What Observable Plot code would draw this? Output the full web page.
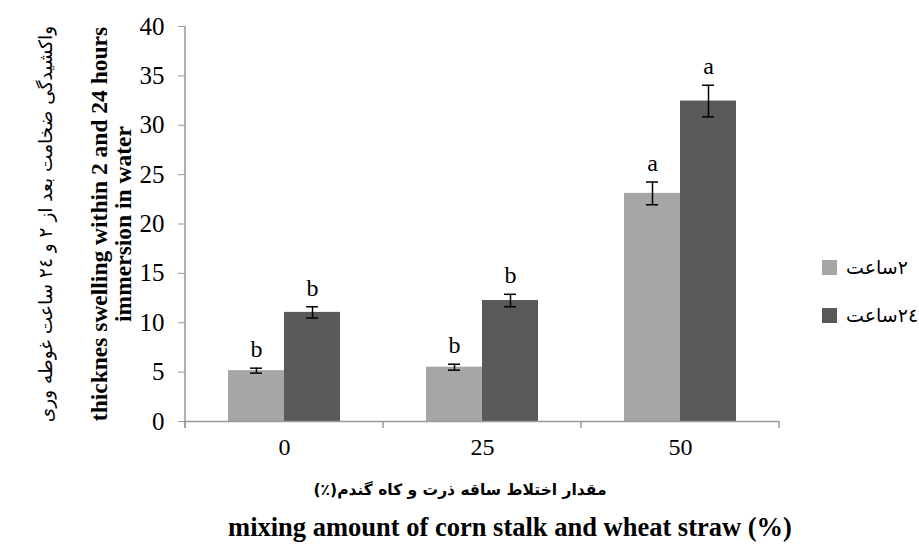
<!DOCTYPE html>
<html><head><meta charset="utf-8">
<script src="https://cdn.jsdelivr.net/npm/d3@7"></script>
<script src="https://cdn.jsdelivr.net/npm/@observablehq/plot@0.6"></script>
<style>
body{margin:0;background:#fff;}
#wrap{position:relative;width:919px;height:552px;overflow:hidden;font-family:"Liberation Serif",serif;color:#000;}
#wrap svg{position:absolute;left:0;top:0;}
.yl{position:absolute;width:500px;transform:rotate(-90deg);transform-origin:50% 50%;text-align:center;white-space:nowrap;}
.fa{font-family:"DejaVu Sans",sans-serif;direction:rtl;unicode-bidi:embed;}
.xt{position:absolute;width:700px;text-align:center;white-space:nowrap;}
.leg{position:absolute;left:822px;height:20px;display:flex;align-items:center;}
.sw{width:15px;height:15px;margin-right:9px;}
</style></head><body><div id="wrap"></div>
<script>
const categories = ["0", "25", "50"];
const seriesNames = ["۲ساعت", "۲٤ساعت"];
const values2h = [5.15, 5.5, 23.1];
const errors2h = [0.25, 0.3, 1.15];
const values24h = [11.05, 12.25, 32.45];
const errors24h = [0.57, 0.63, 1.6];
const letters2h = ["b", "b", "a"];
const letters24h = ["b", "b", "a"];
const yTicks = [0, 5, 10, 15, 20, 25, 30, 35, 40];
const colors = ["#a6a6a6", "#595959"];

const rows = [];
categories.forEach((c, i) => {
  rows.push({cat: c, series: seriesNames[0], value: values2h[i], err: errors2h[i], letter: letters2h[i]});
  rows.push({cat: c, series: seriesNames[1], value: values24h[i], err: errors24h[i], letter: letters24h[i]});
});

const plot = Plot.plot({
  width: 919, height: 552,
  marginLeft: 184, marginRight: 140, marginTop: 26, marginBottom: 131,
  style: {fontFamily: "Liberation Serif", fontSize: "24px", color: "#000", background: "transparent"},
  fx: {domain: categories, padding: 0, label: null, tickSize: 0, tickPadding: 16, axis: "bottom"},
  x: {domain: seriesNames, paddingInner: 0, paddingOuter: 0.752, axis: null},
  y: {domain: [0, 40], axis: null},
  color: {domain: seriesNames, range: colors},
  marks: [
    Plot.barY(rows, {fx: "cat", x: "series", y: "value", fill: "series"}),
    Plot.ruleY([0], {stroke: "#999", strokeWidth: 1.5}),
    Plot.axisY({ticks: yTicks, tickSize: 7, tickPadding: 14, stroke: "#999", fill: "#000", label: null, fontSize: 25}),
    Plot.ruleX(rows, {fx: "cat", x: "series", y1: d => d.value - d.err, y2: d => d.value + d.err, stroke: "#000", strokeWidth: 1.5}),
    Plot.tickY(rows, {fx: "cat", x: "series", y: d => d.value - d.err, stroke: "#000", strokeWidth: 1.5, insetLeft: 22, insetRight: 22}),
    Plot.tickY(rows, {fx: "cat", x: "series", y: d => d.value + d.err, stroke: "#000", strokeWidth: 1.5, insetLeft: 22, insetRight: 22}),
    Plot.text(rows, {fx: "cat", x: "series", y: d => d.value + d.err, text: "letter", lineAnchor: "bottom", dy: -11, fontSize: 24, fill: "#000"})
  ]
});

const wrap = document.getElementById("wrap");
wrap.appendChild(plot);

// axis line and category separator ticks, from the plot's own scales
const svg = d3.select(plot.tagName.toLowerCase() === "svg" ? plot : plot.querySelector("svg"));
const fx = plot.scale("fx"), y = plot.scale("y");
const y0 = y.apply(0), yTop = y.apply(40);
const g = svg.append("g").attr("stroke", "#999").attr("stroke-width", 1.5);
g.append("line").attr("x1", fx.apply(categories[0])).attr("x2", fx.apply(categories[0])).attr("y1", yTop).attr("y2", y0 + 7);
const edges = categories.map(c => fx.apply(c)).concat([fx.apply(categories[categories.length - 1]) + fx.bandwidth]);
edges.forEach(e => g.append("line").attr("x1", e).attr("x2", e).attr("y1", y0).attr("y2", y0 + 7));

// y axis title (rotated lines)
const yCenter = (y0 + yTop) / 2;
function yLine(text, cx, h, style, cls) {
  const d = document.createElement("div");
  d.className = "yl" + (cls ? " " + cls : "");
  d.style.left = (cx - 250) + "px";
  d.style.top = (yCenter - h / 2) + "px";
  d.style.height = h + "px";
  d.style.lineHeight = h + "px";
  d.style.cssText += style;
  d.textContent = text;
  wrap.appendChild(d);
}
yLine("واکشیدگی ضخامت بعد از ۲ و ۲٤ ساعت غوطه وری", 46, 30, "font-size:18.5px;", "fa");
yLine("thicknes swelling within 2 and 24 hours", 99, 26, "font-size:23.5px;font-weight:bold;", "");
yLine("immersion in water", 123, 26, "font-size:23.5px;font-weight:bold;", "");

// x axis titles
const xt1 = document.createElement("div");
xt1.className = "xt fa";
xt1.style.left = (460 - 350) + "px";
xt1.style.top = "481px"; xt1.style.fontSize = "15.5px"; xt1.style.fontWeight = "bold";
xt1.textContent = "مقدار اختلاط ساقه ذرت و کاه گندم(٪)";
wrap.appendChild(xt1);
const xt2 = document.createElement("div");
xt2.className = "xt";
xt2.style.left = (510 - 350) + "px";
xt2.style.top = "512px"; xt2.style.fontSize = "26.5px"; xt2.style.fontWeight = "bold";
xt2.textContent = "mixing amount of corn stalk and wheat straw (%)";
wrap.appendChild(xt2);

// legend
seriesNames.forEach((s, i) => {
  const item = document.createElement("div");
  item.className = "leg";
  item.style.top = (257 + i * 48) + "px";
  item.innerHTML = '<div class="sw" style="background:' + colors[i] + '"></div><span class="fa" style="font-size:19px;">' + s + '</span>';
  wrap.appendChild(item);
});
</script></body></html>
